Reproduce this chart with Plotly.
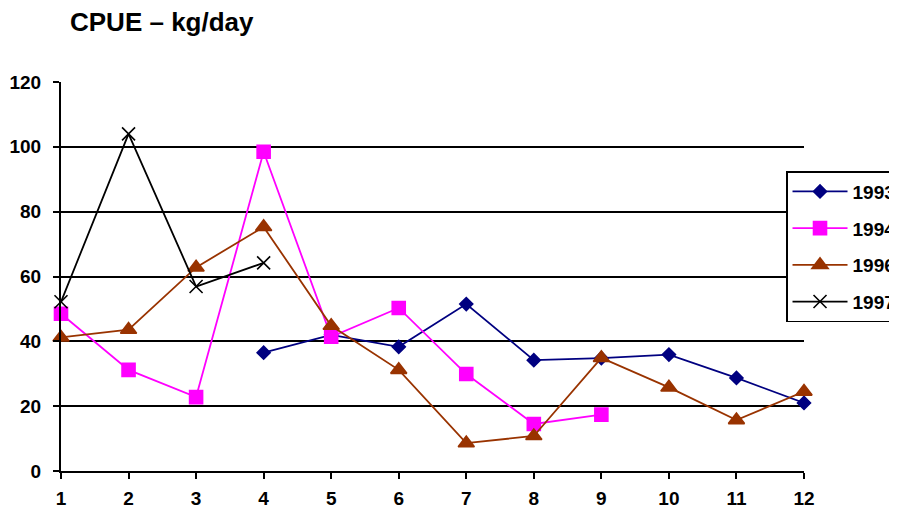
import plotly.graph_objects as go

months = [1, 2, 3, 4, 5, 6, 7, 8, 9, 10, 11, 12]
cpue_1993 = [None, None, None, 36.5, 42, 38.3, 51.5, 34.2, 34.8, 35.9, 28.7, 21]
cpue_1994 = [48.5, 31.2, 22.8, 98.5, 41.4, 50.3, 29.9, 14.5, 17.4, None, None, None]
cpue_1996 = [41.2, 43.6, 62.8, 75.3, 44.8, 31.2, 8.6, 10.8, 34.9, 25.8, 15.7, 24.5]
cpue_1997 = [52.2, 104, 56.9, 64.2, None, None, None, None, None, None, None, None]
y_ticks = [0, 20, 40, 60, 80, 100, 120]

FONT = "Arial, Liberation Sans, sans-serif"
W, H = 889, 502  # page body has an 8px margin

series = [
    ("1993", cpue_1993, "#000080", "diamond", 10),
    ("1994", cpue_1994, "#FF00FF", "square", 13),
    ("1996", cpue_1996, "#993300", "triangle-up", 14),
    ("1997", cpue_1997, "#000000", "x-thin", 13),
]

fig = go.Figure()
for name, vals, color, sym, size in series:
    fig.add_trace(go.Scatter(
        x=months, y=vals, name=name, mode="lines+markers",
        line=dict(color=color, width=1.8),
        marker=dict(symbol=sym, size=size, color=color,
                    line=dict(color=color, width=1.6)),
        cliponaxis=False, legendgroup=name,
    ))

fig.update_layout(
    width=W, height=H,
    paper_bgcolor="white", plot_bgcolor="white",
    margin=dict(l=53, r=93, t=74, b=39, autoexpand=False),
    title=dict(text="<b>CPUE – kg/day</b>", font=dict(family=FONT, size=26, color="black"),
               xref="container", x=62/W, xanchor="left",
               yref="container", y=1-14/H, yanchor="middle"),
    font=dict(family=FONT, color="black"),
    legend=dict(x=0.9758, xanchor="left", y=0.771, yanchor="top",
                bgcolor="white", bordercolor="black", borderwidth=1.5,
                font=dict(family=FONT, size=19, color="black", weight="bold"),
                itemwidth=55, tracegroupgap=9),
    showlegend=True,
)
fig.update_xaxes(range=[1, 12], tickvals=months, ticks="outside", ticklen=6,
                 tickwidth=1.5, tickcolor="black", showline=True, linecolor="black",
                 linewidth=2, showgrid=False, zeroline=False, ticklabelstandoff=3,
                 tickfont=dict(family=FONT, size=19, color="black", weight="bold"))
fig.update_yaxes(range=[0, 120], tickvals=y_ticks, ticks="outside", ticklen=6,
                 tickwidth=1.5, tickcolor="black", showline=True, linecolor="black",
                 linewidth=2, showgrid=True, gridcolor="black", gridwidth=1.5,
                 zeroline=False, ticklabelstandoff=8,
                 tickfont=dict(family=FONT, size=19, color="black", weight="bold"))

fig.write_html("out.html")
